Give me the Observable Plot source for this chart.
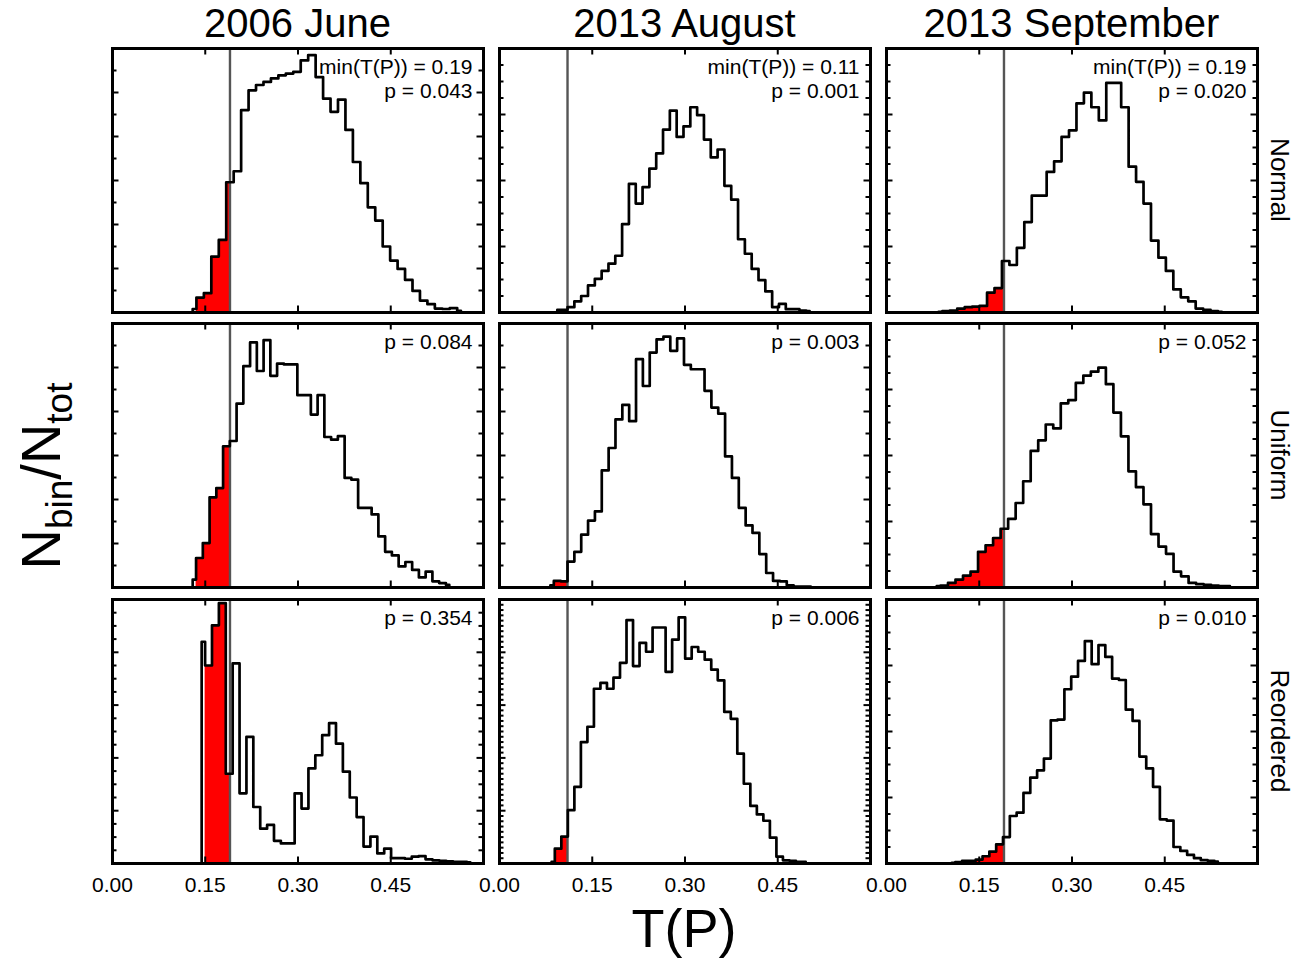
<!DOCTYPE html>
<html>
<head>
<meta charset="utf-8">
<script src="https://cdn.jsdelivr.net/npm/d3@7"></script>
<script src="https://cdn.jsdelivr.net/npm/@observablehq/plot@0.6"></script>
<style>
  html, body { margin: 0; padding: 0; background: #fff; }
  #chart { position: relative; width: 1302px; height: 965px; font-family: "Liberation Sans", Arial, sans-serif; }
  #chart svg { position: absolute; overflow: visible; }
</style>
</head>
<body>
<div id="chart"></div>
<script>
// ---------------- data ----------------
const months = ["2006 June", "2013 August", "2013 September"];
const models = ["Normal", "Uniform", "Reordered"];
const minTP = [0.19, 0.11, 0.19];              // min(T(P)) per month (gray line)
const minTPLabel = ["0.19", "0.11", "0.19"];
const pValues = [                               // rows: model, cols: month
  ["0.043", "0.001", "0.020"],
  ["0.084", "0.003", "0.052"],
  ["0.354", "0.006", "0.010"]
];
const xTicks = [0, 0.15, 0.30, 0.45];

// histogram bins: first bin centre, bin width, bin heights (arbitrary units of N_bin/N_tot)
const juneNormalStart = 0.1297, juneNormalWidth = 0.01205;
const juneNormal = [0.08, 0.34, 0.44, 1.27, 1.65, 2.96, 3.21, 4.60, 5.05, 5.17, 5.24, 5.32, 5.39, 5.43, 5.47, 5.73, 5.85, 5.35, 4.86, 4.56, 4.84, 4.15, 3.42, 2.94, 2.39, 2.09, 1.50, 1.18, 0.99, 0.74, 0.49, 0.27, 0.19, 0.09, 0.08, 0.10, 0.04];

const augNormalStart = 0.0935, augNormalWidth = 0.01103;
const augNormal = [0.04, 0.04, 0.08, 0.17, 0.25, 0.41, 0.51, 0.63, 0.74, 0.86, 1.34, 1.95, 1.65, 1.90, 2.18, 2.41, 2.77, 3.06, 2.66, 2.82, 3.11, 2.99, 2.62, 2.35, 2.47, 1.92, 1.71, 1.11, 0.89, 0.66, 0.49, 0.32, 0.08, 0.13, 0.05, 0.05, 0.03, 0.02];

const sepNormalStart = 0.0843, sepNormalWidth = 0.01205;
const sepNormal = [0.01, 0.02, 0.03, 0.06, 0.08, 0.09, 0.10, 0.30, 0.37, 0.78, 0.72, 0.98, 1.37, 1.77, 1.77, 2.13, 2.29, 2.66, 2.76, 3.17, 3.33, 3.11, 2.91, 3.48, 3.48, 3.11, 2.21, 1.98, 1.65, 1.09, 0.83, 0.63, 0.35, 0.23, 0.17, 0.06, 0.04, 0.02, 0.01];

const juneUniformStart = 0.1297, juneUniformWidth = 0.01092;
const juneUniform = [0.18, 0.67, 1.01, 2.05, 2.26, 3.21, 3.33, 4.18, 5.03, 5.57, 4.92, 5.62, 4.81, 5.09, 5.07, 5.07, 4.37, 4.37, 3.93, 4.37, 3.42, 3.36, 3.44, 2.49, 2.45, 1.81, 1.81, 1.66, 1.16, 0.81, 0.73, 0.48, 0.58, 0.40, 0.23, 0.36, 0.14, 0.10, 0.06];

const augUniformStart = 0.0823, augUniformWidth = 0.01108;
const augUniform = [0.05, 0.15, 0.14, 0.59, 0.81, 1.20, 1.52, 1.73, 2.66, 3.17, 3.82, 4.15, 3.78, 5.19, 4.58, 5.34, 5.64, 5.70, 5.38, 5.66, 5.06, 4.96, 4.96, 4.47, 4.09, 3.95, 2.98, 2.49, 1.81, 1.41, 1.24, 0.76, 0.33, 0.15, 0.14, 0.05, 0.02, 0.02, 0.02];

const sepUniformStart = 0.0812, sepUniformWidth = 0.01216;
const sepUniform = [0.02, 0.03, 0.07, 0.12, 0.18, 0.24, 0.54, 0.64, 0.75, 0.89, 1.04, 1.28, 1.61, 2.07, 2.23, 2.47, 2.41, 2.79, 2.84, 3.10, 3.21, 3.27, 3.33, 3.08, 2.65, 2.29, 1.76, 1.52, 1.26, 0.81, 0.62, 0.51, 0.24, 0.17, 0.07, 0.05, 0.04, 0.03, 0.02, 0.02];

const juneReorderedStart = 0.1442, juneReorderedWidth = 0.01114;
const juneReordered = [4.20, 3.75, 4.51, 4.93, 1.70, 3.79, 1.33, 2.40, 1.07, 0.66, 0.73, 0.43, 0.38, 0.38, 1.33, 1.04, 1.80, 2.05, 2.43, 2.66, 2.27, 1.74, 1.25, 0.88, 0.32, 0.51, 0.19, 0.28, 0.10, 0.10, 0.09, 0.13, 0.14, 0.08, 0.06, 0.05, 0.04, 0.03, 0.03, 0.02];

const augReorderedStart = 0.0842, augReorderedWidth = 0.01054;
const augReordered = [0.03, 0.28, 0.51, 1.01, 1.45, 2.30, 2.59, 3.31, 3.42, 3.31, 3.52, 3.80, 4.61, 3.74, 4.18, 4.01, 4.47, 4.47, 3.63, 4.24, 4.66, 3.88, 4.10, 4.01, 3.86, 3.67, 3.47, 2.87, 2.74, 2.08, 1.51, 1.09, 0.93, 0.81, 0.49, 0.13, 0.06, 0.05, 0.03, 0.03];

const sepReorderedStart = 0.1057, sepReorderedWidth = 0.01103;
const sepReordered = [0.01, 0.02, 0.04, 0.04, 0.06, 0.11, 0.18, 0.29, 0.40, 0.72, 0.77, 1.07, 1.30, 1.41, 1.59, 2.17, 2.18, 2.64, 2.83, 3.07, 3.37, 3.02, 3.31, 3.13, 2.80, 2.78, 2.33, 2.16, 1.62, 1.44, 1.16, 0.67, 0.65, 0.25, 0.19, 0.13, 0.08, 0.05, 0.04, 0.03];

// y-axis extent and minor tick step of each panel (rows: model, cols: month)
const yMax   = [[6, 4, 4], [6, 6, 4], [5, 5, 4]];
const yMinor = [[0.5, 0.25, 0.25], [0.5, 0.5, 0.25], [0.25, 0.1, 0.25]];

const histograms = [
  [[juneNormal, juneNormalStart, juneNormalWidth], [augNormal, augNormalStart, augNormalWidth], [sepNormal, sepNormalStart, sepNormalWidth]],
  [[juneUniform, juneUniformStart, juneUniformWidth], [augUniform, augUniformStart, augUniformWidth], [sepUniform, sepUniformStart, sepUniformWidth]],
  [[juneReordered, juneReorderedStart, juneReorderedWidth], [augReordered, augReorderedStart, augReorderedWidth], [sepReordered, sepReorderedStart, sepReorderedWidth]]
];

// ---------------- layout ----------------
const FONT = "Liberation Sans, Arial, Helvetica, sans-serif";
const panelLeft = [112, 499, 886];
const panelTop = [48, 323, 599];
const PW = 371, PH = 264, M = 4;
const XMAX = 0.6;

const chart = document.getElementById("chart");

function makePanel(r, c) {
  const [counts, start, width] = histograms[r][c];
  const ymax = yMax[r][c], minor = yMinor[r][c], minT = minTP[c];
  const centres = counts.map((v, i) => ({x: start + i * width, y: v}));
  const outline = [{x: centres[0].x, y: 0}, ...centres, {x: centres[centres.length - 1].x, y: 0}];
  // red: part of histogram below min(T(P)), starting from first bin edge
  const red = [];
  let last = 1;
  for (let i = 1; i < counts.length; i++) {
    const left = start + (i - 0.5) * width;
    if (left >= minT) break;
    red.push({x: left, y: counts[i]});
    last = i;
  }
  red.push({x: Math.min(start + (last + 0.5) * width, minT), y: counts[last]});

  // inward tick marks
  const yt = d3.range(minor, ymax - 1e-9, minor).map(v => ({v, major: Math.abs(v - Math.round(v)) < 1e-6}));
  const tlen = d => (d.major ? 6.5 : 4.5) / PW * XMAX;
  const xt = [0.15, 0.30, 0.45];
  const xlen = 6.5 / PH * ymax;

  const bottom = r === 2;
  const annot = r === 0
    ? [`min(T(P)) = ${minTPLabel[c]}`, `p = ${pValues[r][c]}`]
    : [`p = ${pValues[r][c]}`];

  const svg = Plot.plot({
    width: PW + 2 * M,
    height: PH + 2 * M + (bottom ? 40 : 0),
    marginLeft: M, marginRight: M, marginTop: M, marginBottom: M + (bottom ? 40 : 0),
    style: {fontFamily: FONT, fontSize: "21px", color: "black", background: "transparent", overflow: "visible"},
    x: {domain: [0, XMAX], axis: bottom ? "bottom" : null, ticks: xTicks, tickSize: 0, tickPadding: 14,
        tickFormat: d => d.toFixed(2), label: null},
    y: {domain: [0, ymax], axis: null},
    marks: [
      Plot.areaY(red, {x: "x", y: "y", curve: "step-after", fill: "#ff0000"}),
      Plot.ruleX([minT], {stroke: "#555555", strokeWidth: 2.4}),
      Plot.line(outline, {x: "x", y: "y", curve: "step", stroke: "black", strokeWidth: 2.7}),
      Plot.ruleY(yt, {y: "v", x1: 0, x2: tlen, stroke: "black", strokeWidth: 2}),
      Plot.ruleY(yt, {y: "v", x1: XMAX, x2: d => XMAX - tlen(d), stroke: "black", strokeWidth: 2}),
      Plot.ruleX(xt, {x: d => d, y1: 0, y2: xlen, stroke: "black", strokeWidth: 2}),
      Plot.ruleX(xt, {x: d => d, y1: ymax, y2: ymax - xlen, stroke: "black", strokeWidth: 2}),
      Plot.frame({stroke: "black", strokeWidth: 3}),
      ...annot.map((t, i) =>
        Plot.text([t], {text: d => d, frameAnchor: "top-right", textAnchor: "end", lineAnchor: "middle",
          dx: -11, dy: 19 + 24 * i, fontSize: 21, fill: "black"}))
    ]
  });
  svg.style.left = (panelLeft[c] - M) + "px";
  svg.style.top = (panelTop[r] - M) + "px";
  chart.appendChild(svg);
}

for (let r = 0; r < 3; r++) for (let c = 0; c < 3; c++) makePanel(r, c);

// ---------------- titles and axis labels ----------------
const over = d3.select(chart).append("svg")
  .attr("width", 1302).attr("height", 965)
  .style("left", "0px").style("top", "0px")
  .style("font-family", FONT).style("pointer-events", "none");

months.forEach((m, c) => {
  over.append("text").attr("x", panelLeft[c] + PW / 2).attr("y", 37)
    .attr("text-anchor", "middle").attr("font-size", 40).text(m);
});
models.forEach((m, r) => {
  over.append("text")
    .attr("transform", `translate(1271,${panelTop[r] + PH / 2}) rotate(90)`)
    .attr("text-anchor", "middle").attr("font-size", 26).text(m);
});
const yl = over.append("text")
  .attr("transform", "translate(60,476) rotate(-90)")
  .attr("text-anchor", "middle").attr("font-size", 56);
yl.append("tspan").text("N");
yl.append("tspan").attr("font-size", 37).attr("dy", 12).text("bin");
yl.append("tspan").attr("dy", -12).text("/N");
yl.append("tspan").attr("font-size", 37).attr("dy", 12).text("tot");

over.append("text").attr("x", 684).attr("y", 947)
  .attr("text-anchor", "middle").attr("font-size", 54).text("T(P)");
</script>
</body>
</html>
